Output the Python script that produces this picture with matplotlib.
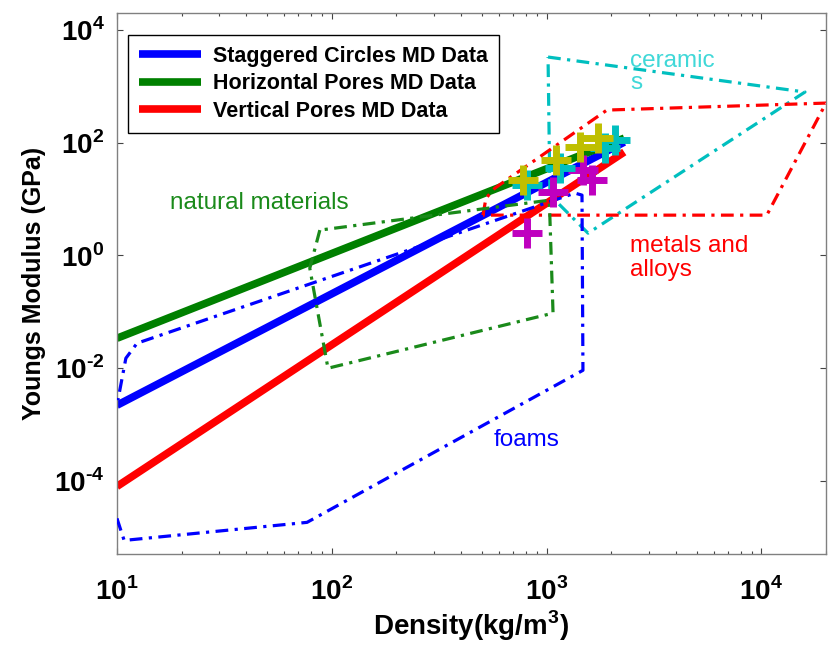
import numpy as np
import matplotlib
matplotlib.use("Agg")
import matplotlib.pyplot as plt

plt.rcParams['font.family'] = ['Liberation Sans', 'DejaVu Sans']
plt.rcParams['mathtext.fontset'] = 'custom'
plt.rcParams['mathtext.rm'] = 'Liberation Sans:bold'
plt.rcParams['mathtext.bf'] = 'Liberation Sans:bold'

# --- MD fits (straight lines on log-log), density in kg/m^3, modulus in GPa
dens_line = [10, 2300]
stag_E = [0.00218, 102]
horiz_E = [0.0337, 120]
vert_E = [7.9e-5, 68]

# --- MD data points
yel_rho = [780, 1106, 1431, 1735]
yel_E = [21.6, 49, 83, 120]
cyan_rho = [811, 1154, 1870, 2080]
cyan_E = [17.6, 35, 80, 111]
mag_rho = [811, 1071, 1479, 1627]
mag_E = [2.47, 13.2, 32.5, 21.6]

# --- material regions (Ashby-style outlines)
ceram_rho = [1016, 15960, 1560, 1037, 1016]
ceram_E = [3300, 790, 2.47, 11.7, 3300]
metal_rho = [506, 522, 575, 1910, 20000, 10600, 506]
metal_E = [5.16, 10.3, 15.6, 378, 503, 5.16, 5.16]
nat_rho = [88, 79, 96, 1072, 1030, 88]
nat_E = [2.8, 0.59, 0.0099, 0.094, 9.5, 2.8]
foam_rho = [10, 10.8, 76.7, 1477, 1462, 1355, 12.4, 11.0, 10.1]
foam_E = [2.14e-5, 8.7e-6, 1.82e-5, 0.0091, 11.7, 12.7, 0.0275, 0.0149, 0.00267]

xticks = [1e1, 1e2, 1e3, 1e4]
xlabels = [r'$10^{1}$', r'$10^{2}$', r'$10^{3}$', r'$10^{4}$']
yticks = [1e-4, 1e-2, 1e0, 1e2, 1e4]
ylabels = [r'$10^{\text{-}4}$', r'$10^{\text{-}2}$', r'$10^{0}$', r'$10^{2}$', r'$10^{4}$']

fig = plt.figure(figsize=(8.29, 6.48), dpi=100)
ax = fig.add_axes([0.1411, 0.1451, 0.8553, 0.8349])

ax.loglog(dens_line, stag_E, '-', color='#0000ff', lw=5.5, label="Staggered Circles MD Data", solid_capstyle='butt', zorder=2)
ax.loglog(dens_line, horiz_E, '-', color='#008000', lw=5.5, label="Horizontal Pores MD Data", solid_capstyle='butt', zorder=2)
ax.loglog(dens_line, vert_E, '-', color='#ff0000', lw=5.5, label="Vertical Pores MD Data", solid_capstyle='butt', zorder=2)

dd = (0, (4, 2, 1, 2))
ax.plot(ceram_rho, ceram_E, color='#00bfbf', lw=2.3, ls=dd, zorder=3)
ax.plot(metal_rho, metal_E, color='#ff0000', lw=2.3, ls=dd, zorder=3)
ax.plot(nat_rho, nat_E, color='#1a8a1a', lw=2.3, ls=dd, zorder=3)
ax.plot(foam_rho, foam_E, color='#0000ff', lw=2.3, ls=dd, zorder=3)

ax.plot(mag_rho, mag_E, '+', color='#bf00bf', ms=21, mew=5, zorder=4)
ax.plot(cyan_rho, cyan_E, '+', color='#00bfbf', ms=21, mew=5, zorder=4)
ax.plot(yel_rho, yel_E, '+', color='#bfbf00', ms=21, mew=5, zorder=5)

ax.text(2443, 1790, "ceramic\ns", color='#40d8d8', fontsize=17.5, ha='left', va='center', linespacing=1.05)
ax.text(17.7, 8.4, "natural materials", color='#1a8a1a', fontsize=17.5, ha='left', va='center')
ax.text(2443, 0.89, "metals and\nalloys", color='#ff0000', fontsize=17.5, ha='left', va='center', linespacing=1.15)
ax.text(569, 5.2e-4, "foams", color='#0000ff', fontsize=17.5, ha='left', va='center')

ax.set_xlim(10, 2e4)
ax.set_ylim(5e-6, 2e4)
ax.set_xticks(xticks)
ax.set_xticklabels(xlabels)
ax.set_yticks(yticks)
ax.set_yticklabels(ylabels)
ax.minorticks_on()
ax.yaxis.set_minor_locator(matplotlib.ticker.NullLocator())
ax.tick_params(which='both', direction='in', top=True, right=True, color='#444444')
ax.tick_params(which='major', length=4, width=0.8, labelsize=20)
ax.tick_params(axis='x', which='major', pad=17)
ax.tick_params(axis='y', which='major', pad=9)
ax.tick_params(which='minor', length=2.5, width=0.8)
for s in ax.spines.values():
    s.set_color('#808080')
    s.set_linewidth(1)

ax.set_xlabel(r'Density(kg/m$^3$)', fontsize=20, fontweight='bold')
ax.set_ylabel("Youngs Modulus (GPa)", fontsize=18, fontweight='bold')
ax.xaxis.set_label_coords(0.5, -0.1)
ax.yaxis.set_label_coords(-0.1, 0.5)

leg = ax.legend(loc='upper left', bbox_to_anchor=(0.0155, 0.959), borderaxespad=0, fancybox=False,
                framealpha=1, edgecolor='black', prop={'weight': 'bold', 'size': 15.5},
                handlelength=2.9, handletextpad=0.55, borderpad=0.5, labelspacing=0.3)
leg.get_frame().set_linewidth(1)

fig.savefig("out.png", dpi=100)
